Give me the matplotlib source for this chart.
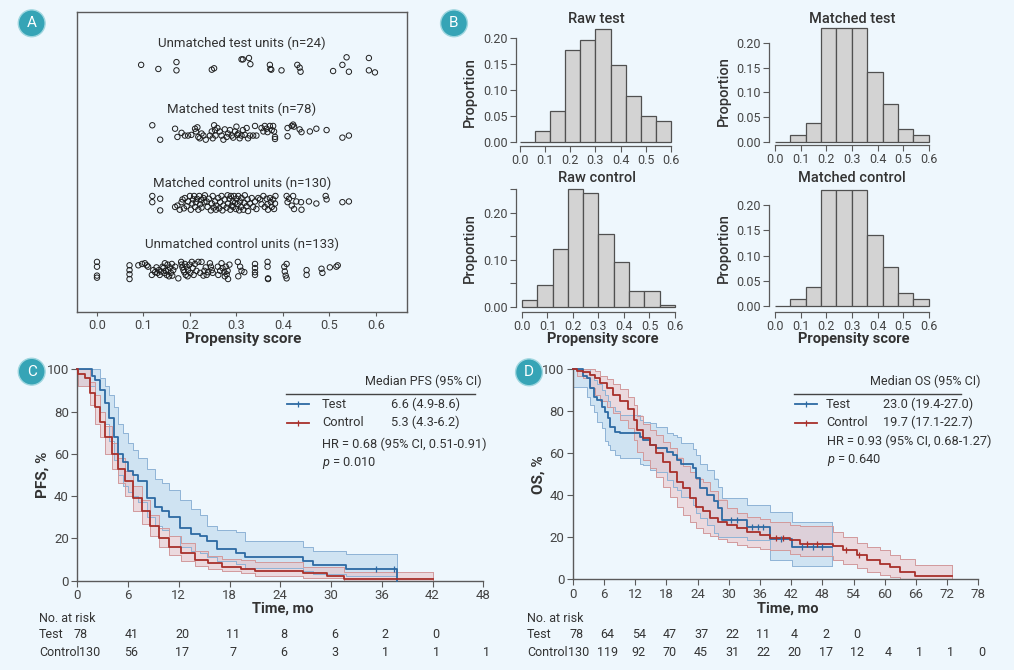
import matplotlib.pyplot as plt
import numpy as np
from matplotlib.transforms import blended_transform_factory

plt.rcParams['font.family'] = ['Roboto', 'DejaVu Sans']
plt.rcParams['mathtext.fontset'] = 'custom'
plt.rcParams['mathtext.it'] = 'Roboto:italic'
plt.rcParams['mathtext.rm'] = 'Roboto'

W, H = 1014, 670
BG = '#eef7fd'
TXT = '#333333'
TICK = '#444444'
SPINE = '#5a5a5a'
BLUE, BLUE_F, BLUE_E = '#2d6aa3', '#b7d3ea', '#8fb3d6'
RED, RED_F, RED_E = '#a8302b', '#e9c2c5', '#d29a9c'
BADGE = '#36a4b6'

# ---------------- panel A: propensity scores with vertical jitter
ut_ps = [0.095, 0.132, 0.171, 0.171, 0.247, 0.252, 0.311, 0.314, 0.327, 0.330, 0.372, 0.373,
         0.375, 0.397, 0.431, 0.436, 0.438, 0.508, 0.528, 0.537, 0.542, 0.585, 0.585, 0.598]
ut_jit = [0.0, -0.06, 0.04, -0.08, -0.07, -0.05, 0.08, 0.08, 0.10, 0.01, 0.0, -0.06,
          -0.07, -0.08, 0.0, -0.04, -0.10, -0.09, 0.0, 0.11, -0.10, 0.10, -0.08, -0.11]

mt_ps = [0.119, 0.136, 0.168, 0.173, 0.182, 0.189, 0.196, 0.203, 0.211, 0.213,
         0.216, 0.218, 0.221, 0.225, 0.229, 0.234, 0.243, 0.247, 0.249, 0.252,
         0.254, 0.255, 0.259, 0.264, 0.268, 0.272, 0.275, 0.279, 0.282, 0.286,
         0.290, 0.293, 0.297, 0.300, 0.302, 0.304, 0.307, 0.311, 0.314, 0.318,
         0.322, 0.325, 0.329, 0.336, 0.340, 0.343, 0.354, 0.358, 0.361, 0.365,
         0.367, 0.372, 0.376, 0.379, 0.381, 0.383, 0.383, 0.410, 0.410, 0.419,
         0.422, 0.424, 0.436, 0.440, 0.458, 0.472, 0.494, 0.528, 0.542]
mt_jit = [0.12, -0.09, 0.07, -0.05, 0.01, -0.03, -0.03, -0.02, 0.07, 0.03,
          0.09, -0.05, -0.07, 0.0, -0.03, -0.09, -0.03, 0.03, -0.07, 0.12,
          0.05, -0.03, 0.08, 0.03, -0.03, -0.09, 0.06, -0.05, 0.0, 0.05,
          -0.03, -0.06, 0.03, 0.10, -0.02, 0.0, -0.07, -0.03, 0.05, -0.02,
          0.08, -0.07, -0.03, -0.03, 0.11, -0.03, 0.08, 0.03, 0.11, 0.07,
          0.02, 0.11, 0.05, 0.11, 0.03, -0.05, -0.08, 0.08, -0.04, 0.11,
          0.13, 0.10, 0.06, 0.02, 0.03, 0.07, 0.05, -0.06, -0.03]

mc_ps = [0.119, 0.119, 0.136, 0.136, 0.168, 0.173, 0.178, 0.182, 0.184, 0.187,
         0.189, 0.193, 0.196, 0.200, 0.202, 0.205, 0.207, 0.209, 0.211, 0.213,
         0.215, 0.218, 0.220, 0.222, 0.224, 0.225, 0.229, 0.231, 0.232, 0.236,
         0.238, 0.241, 0.245, 0.247, 0.249, 0.251, 0.254, 0.256, 0.257, 0.261,
         0.263, 0.265, 0.268, 0.270, 0.272, 0.275, 0.279, 0.281, 0.282, 0.285,
         0.287, 0.288, 0.290, 0.292, 0.293, 0.295, 0.297, 0.299, 0.300, 0.303,
         0.304, 0.306, 0.308, 0.310, 0.311, 0.315, 0.317, 0.318, 0.322, 0.324,
         0.325, 0.329, 0.333, 0.336, 0.340, 0.343, 0.347, 0.351, 0.354, 0.358,
         0.361, 0.365, 0.367, 0.368, 0.372, 0.374, 0.376, 0.379, 0.381, 0.383,
         0.384, 0.408, 0.410, 0.413, 0.419, 0.422, 0.424, 0.429, 0.439, 0.440,
         0.456, 0.472, 0.492, 0.494, 0.528, 0.542]
mc_jit = [0.09, 0.0, 0.05, -0.12, -0.07, -0.05, -0.11, 0.0, 0.04, -0.09,
          0.06, -0.06, 0.01, 0.09, -0.11, -0.02, 0.04, 0.09, -0.07, 0.0,
          0.05, -0.11, 0.09, -0.03, 0.03, -0.08, 0.06, 0.0, 0.10, 0.01,
          -0.07, 0.05, -0.12, -0.02, 0.09, -0.08, 0.01, -0.11, -0.05, 0.06,
          -0.09, 0.0, 0.09, -0.12, -0.05, 0.04, -0.08, 0.10, -0.02, 0.05,
          -0.11, 0.09, -0.05, 0.01, -0.07, 0.09, -0.01, -0.10, 0.05, -0.03,
          0.09, -0.12, 0.01, -0.07, 0.06, -0.11, -0.01, 0.10, -0.06, 0.04,
          -0.13, -0.02, 0.06, -0.07, 0.01, -0.10, 0.06, 0.04, -0.03, 0.09,
          -0.07, 0.05, -0.03, -0.11, 0.06, 0.0, -0.07, 0.04, -0.10, -0.02,
          0.09, 0.09, 0.0, 0.05, -0.05, 0.09, -0.10, 0.01, 0.0, -0.11,
          0.01, -0.02, 0.09, 0.04, 0.0, 0.01]

uc_ps = [0.0, 0.0, 0.0, 0.0, 0.07, 0.07, 0.07, 0.07, 0.089, 0.097,
         0.103, 0.107, 0.110, 0.118, 0.121, 0.125, 0.128, 0.130, 0.133, 0.135,
         0.138, 0.141, 0.143, 0.145, 0.146, 0.148, 0.150, 0.152, 0.153, 0.155,
         0.157, 0.159, 0.161, 0.162, 0.164, 0.168, 0.175, 0.181, 0.182, 0.184,
         0.186, 0.188, 0.189, 0.191, 0.193, 0.195, 0.196, 0.199, 0.201, 0.204,
         0.206, 0.208, 0.211, 0.214, 0.218, 0.222, 0.225, 0.229, 0.231, 0.234,
         0.236, 0.239, 0.243, 0.245, 0.247, 0.249, 0.260, 0.261, 0.265, 0.268,
         0.270, 0.274, 0.275, 0.277, 0.279, 0.281, 0.282, 0.285, 0.303, 0.304,
         0.308, 0.311, 0.317, 0.340, 0.340, 0.340, 0.340, 0.367, 0.367, 0.368,
         0.368, 0.403, 0.404, 0.406, 0.408, 0.408, 0.451, 0.451, 0.483, 0.485,
         0.501, 0.515, 0.518]
uc_jit = [0.13, 0.06, -0.07, -0.10, 0.08, 0.01, -0.05, -0.12, 0.08, 0.10,
          0.11, 0.08, 0.06, -0.06, 0.01, -0.02, 0.05, -0.03, 0.01, -0.06,
          -0.01, 0.06, 0.04, -0.03, 0.11, 0.0, -0.06, 0.09, 0.01, -0.08,
          0.05, -0.03, 0.10, -0.07, 0.01, 0.06, -0.11, 0.13, 0.09, 0.05,
          0.01, -0.02, 0.10, -0.06, 0.06, -0.08, 0.01, 0.09, -0.03, 0.13,
          0.04, -0.06, 0.10, 0.0, 0.13, -0.03, 0.13, -0.07, 0.0, 0.05,
          -0.06, -0.02, 0.11, 0.06, 0.01, -0.03, 0.06, -0.06, 0.0, 0.11,
          0.04, -0.02, -0.08, 0.06, -0.05, 0.0, -0.12, 0.09, 0.13, -0.08,
          0.06, 0.0, -0.02, 0.10, 0.04, -0.02, -0.06, 0.13, 0.06, -0.11,
          -0.12, 0.06, -0.01, -0.07, -0.11, 0.10, 0.01, -0.06, 0.03, -0.03,
          0.05, 0.06, 0.08]

group_labels = ['Unmatched control units (n=133)', 'Matched control units (n=130)',
                'Matched test tnits (n=78)', 'Unmatched test units (n=24)']

# ---------------- panel B: histogram proportions, bins of 0.06
bin_edges = np.linspace(0, 0.6, 11)
raw_test_prop = [0.0, 0.020, 0.059, 0.176, 0.196, 0.216, 0.147, 0.088, 0.049, 0.039]
matched_test_prop = [0.0, 0.013, 0.038, 0.231, 0.231, 0.231, 0.141, 0.077, 0.026, 0.013]
raw_ctrl_prop = [0.015, 0.046, 0.122, 0.251, 0.243, 0.156, 0.095, 0.034, 0.034, 0.004]
matched_ctrl_prop = [0.0, 0.013, 0.038, 0.231, 0.231, 0.231, 0.141, 0.077, 0.026, 0.013]

# ---------------- panel C: PFS Kaplan-Meier (months, %)
pfs_test_t = [0, 1.7, 2.1, 2.7, 3.3, 3.7, 4.3, 4.85, 5.4, 6.0, 6.6, 7.2, 8.2, 9.2, 10.0, 10.8,
              12.1, 13.5, 14.5, 15.3, 16.5, 18.8, 19.8, 26.7, 27.9, 31.8, 37.8]
pfs_test_s = [100, 97, 95, 90, 84, 77, 68, 60, 56, 52, 50, 47, 39, 35, 33, 30,
              25, 22, 21, 19, 15, 13, 11, 9.3, 7.4, 5.5, 0]
pfs_test_hi = [100, 100, 100, 96, 92, 88, 82, 74, 70, 65, 62, 58, 53, 48, 46, 43,
               38, 34, 31, 26, 24, 23, 19, 16, 14, 12.5, 12.5]
pfs_test_lo = [92, 92, 88, 80, 74, 66, 57, 50, 45, 42, 40, 37, 30, 26, 24, 21,
               16, 14, 13, 11, 9.5, 8, 6, 4.5, 3, 2, 2]
pfs_test_cens = [35.3, 37.4]

pfs_ctrl_t = [0, 0.1, 0.9, 1.5, 2.1, 2.7, 3.3, 4.1, 4.85, 5.6, 6.6, 7.6, 8.6, 9.6, 10.8,
              12.3, 13.9, 15.5, 17.1, 19.4, 21.0, 26.7, 29.5, 31.5, 42.1]
pfs_ctrl_s = [100, 98, 96, 89, 82, 75, 68, 60, 53, 47, 39, 33, 26, 20, 16,
              13, 10, 8.2, 6.6, 5.5, 4.7, 3.5, 2.2, 0.8, 0.8]
pfs_ctrl_hi = [100, 100, 100, 94, 88, 80, 73, 65, 58, 52, 45, 38, 31, 25, 21,
               18, 14, 11.5, 10.5, 9.8, 9, 6.3, 6.3, 4, 4]
pfs_ctrl_lo = [100, 92, 92, 83, 74, 68, 60, 53, 46, 40, 33, 27, 21, 16, 12,
               9.5, 7, 5.5, 4.5, 3.5, 2.2, 1.2, 1.2, 0, 0]
pfs_ctrl_cens = []

# ---------------- panel D: OS Kaplan-Meier (months, %)
os_test_t = [0, 2.0, 2.7, 3.3, 4.0, 4.6, 5.6, 6.2, 6.7, 7.2, 8.1, 9.1, 12.9, 13.6, 14.9, 16.1,
             18.1, 19.3, 20.0, 20.9, 23.2, 23.8, 24.5, 25.8, 27.1, 28.0, 28.7, 33.5, 37.9, 42.1, 49.8]
os_test_s = [100, 97, 95.7, 91, 87, 85.4, 82.2, 79.8, 76.6, 72.7, 70.3, 69.5, 67.9, 66.3, 63.9, 62.4,
             60.8, 59.2, 56.8, 54.8, 52.9, 48.2, 43.4, 40.2, 37.1, 33.9, 28.2, 24.7, 19.0, 15.2, 15.2]
os_test_hi = [100, 100, 100, 98, 95, 93, 90, 88, 85, 82, 80, 78.2, 76, 75, 74.3, 72.7,
              69.5, 68.5, 67.9, 65, 62, 59.2, 55, 52, 48, 44, 38.6, 35.4, 32.2, 27.1, 27.1]
os_test_lo = [91.7, 91.7, 87, 83, 79.8, 75, 72, 66, 64, 61.6, 59, 57.6, 55, 54.4, 52, 51.3,
              47.3, 44, 42.5, 39, 35.4, 31.4, 29, 26, 22, 20.3, 20.3, 18.7, 9.2, 6.3, 6.3]
os_test_cens = [30.5, 31.6, 34.4, 35.6, 36.6, 40.0, 44.0, 46.2, 48.0]

os_ctrl_t = [0, 0.8, 2.0, 3.3, 4.3, 5.2, 6.5, 7.8, 9.1, 10.7, 11.7, 12.3, 13.6, 14.9, 16.1, 17.4,
             18.7, 20.0, 21.3, 22.6, 23.8, 25.1, 26.4, 28.0, 29.6, 31.5, 33.5, 36.0, 37.9, 41.8,
             43.7, 50.1, 52.0, 54.6, 56.5, 59.1, 61.0, 63.0, 65.8, 72.9]
os_ctrl_s = [100, 99.2, 98.5, 97.3, 95.7, 93.5, 91, 88, 85, 81, 76, 71, 67.2, 63.9, 60, 56,
             51.3, 46.5, 43.4, 38.6, 34.6, 32.3, 29.2, 27.5, 25.9, 24.3, 22.7, 21.1, 19.5, 18.7,
             16.8, 15.9, 13.9, 11.5, 9.2, 7.1, 5.7, 3.6, 1.5, 1.5]
os_ctrl_hi = [100, 100, 100, 100, 99, 97, 95.5, 93, 90.5, 87, 83, 78, 74, 71, 68.5, 65.5,
              62.4, 58, 54, 51.3, 48, 46.5, 42, 38, 34, 31.5, 29.8, 28.5, 27.5, 26,
              25.5, 22.7, 20.3, 17.1, 15.5, 13.9, 11.5, 9.5, 6.8, 6.8]
os_ctrl_lo = [100, 97, 95.7, 91, 88, 85, 82, 79, 76, 72, 66.3, 60.8, 56.8, 52.9, 48.9, 44.1,
              39.4, 34.6, 30.7, 27.5, 24.3, 21.9, 20.5, 19, 17.9, 16.3, 15.5, 14.5, 14.0, 12,
              11, 9, 7.5, 5.5, 3.5, 2, 1, 0, 0, 0]
os_ctrl_cens = [39.0, 40.5, 45.0, 47.0, 52.5, 55.0]

# numbers at risk
pfs_risk_times = [0, 6, 12, 18, 24, 30, 36, 42, 48]
pfs_risk_test = [78, 41, 20, 11, 8, 6, 2, 0]
pfs_risk_ctrl = [130, 56, 17, 7, 6, 3, 1, 1, 1]
os_risk_times = [0, 6, 12, 18, 24, 30, 36, 42, 48, 54, 60, 66, 72, 78]
os_risk_test = [78, 64, 54, 47, 37, 22, 11, 4, 2, 0]
os_risk_ctrl = [130, 119, 92, 70, 45, 31, 22, 20, 17, 12, 4, 1, 1, 0]


def rect(l, t, r, b):
    return [l / W, 1 - b / H, (r - l) / W, (b - t) / H]


def fx(x):
    return x / W


def fy(y):
    return 1 - y / H


fig = plt.figure(figsize=(W / 100, H / 100), dpi=100, facecolor=BG)


def badge(x, y, letter):
    fig.text(fx(x), fy(y), letter, ha='center', va='center', color='white', fontsize=11,
             bbox=dict(boxstyle='circle,pad=0.42', fc=BADGE, ec='#9fd6df', lw=1.0))


# ======================= A
axA = fig.add_axes(rect(77, 12, 407, 312))
axA.set_facecolor(BG)
series_a = [(uc_ps, uc_jit), (mc_ps, mc_jit), (mt_ps, mt_jit), (ut_ps, ut_jit)]
label_y = [1.38, 2.28, 3.35, 4.32]
for i, (ps, jit) in enumerate(series_a):
    axA.scatter(ps, (i + 1) + np.array(jit), s=15, facecolors='none',
                edgecolors='#1e1e1e', linewidths=0.7)
    axA.text(0.5, label_y[i], group_labels[i],
             transform=blended_transform_factory(axA.transAxes, axA.transData),
             ha='center', va='center', fontsize=9.5, color=TXT)
axA.set_xlim(-0.043, 0.667)
axA.set_ylim(0.40, 4.77)
axA.set_yticks([])
axA.set_xticks(np.arange(0, 0.61, 0.1))
axA.set_xticklabels([f'{v:.1f}' for v in np.arange(0, 0.61, 0.1)])
axA.tick_params(axis='x', length=3, color=SPINE, labelsize=9.2, labelcolor=TICK, pad=2)
for sp in axA.spines.values():
    sp.set_color(SPINE)
    sp.set_linewidth(1.0)
fig.text(fx(243), fy(339), 'Propensity score', ha='center', va='center', fontsize=11,
         color=TXT, fontweight='bold')
badge(31.7, 23.3, 'A')


# ======================= B
def hist_panel(r, props, xlim, ylim, ytop, yticks, ylabels, title, title_xy, ylab_xy, xlabel_xy=None):
    ax = fig.add_axes(rect(*r))
    ax.set_facecolor('none')
    ax.bar(bin_edges[:-1], props, width=0.06, align='edge', color='#d3d3d3',
           edgecolor='#505050', linewidth=0.9, clip_on=False)
    ax.set_xlim(*xlim)
    ax.set_ylim(*ylim)
    for s in ['top', 'right']:
        ax.spines[s].set_visible(False)
    ax.spines['left'].set_bounds(0, ytop)
    ax.spines['bottom'].set_bounds(0, 0.6)
    for s in ['left', 'bottom']:
        ax.spines[s].set_color(SPINE)
        ax.spines[s].set_linewidth(0.9)
    ax.set_xticks(np.arange(0, 0.61, 0.1))
    ax.set_xticklabels([f'{v:.1f}' for v in np.arange(0, 0.61, 0.1)])
    ax.set_yticks(yticks)
    ax.set_yticklabels(ylabels)
    ax.tick_params(length=4, color=SPINE, labelsize=9, labelcolor=TICK, pad=2)
    fig.text(fx(title_xy[0]), fy(title_xy[1]), title, ha='center', va='center',
             fontsize=10.5, color=TXT, fontweight='medium')
    fig.text(fx(ylab_xy[0]), fy(ylab_xy[1]), 'Proportion', ha='center', va='center',
             rotation=90, fontsize=10.5, color=TXT, fontweight='medium')
    if xlabel_xy:
        fig.text(fx(xlabel_xy[0]), fy(xlabel_xy[1]), 'Propensity score', ha='center',
                 va='center', fontsize=10.5, color=TXT, fontweight='bold')
    return ax


t5 = [0, 0.05, 0.10, 0.15, 0.20]
l5 = ['0.00', '0.05', '0.10', '0.15', '0.20']
hist_panel((516, 26, 676, 146), raw_test_prop, (-0.016, 0.62), (-0.0085, 0.2225), 0.20,
           t5, l5, 'Raw test', (596, 19), (470, 92))
hist_panel((769, 28, 934, 145), matched_test_prop, (-0.023, 0.62), (-0.0067, 0.231), 0.20,
           t5, l5, 'Matched test', (852, 19), (724, 91))
hist_panel((516, 189, 676, 312), raw_ctrl_prop, (-0.0235, 0.604), (-0.0113, 0.251), 0.25,
           [0, 0.05, 0.10, 0.15, 0.20, 0.25], ['0.00', '', '0.10', '', '0.20', ''],
           'Raw control', (597, 178), (470, 248), (603, 339))
hist_panel((769, 189, 934, 312), matched_ctrl_prop, (-0.023, 0.62), (-0.0126, 0.2327), 0.20,
           t5, l5, 'Matched control', (852, 178), (724, 248), (854, 339))
badge(454, 23.3, 'B')


# ======================= C / D
def km_curve(ax, t, s, lo, hi, cens, line_c, fill_c, edge_c):
    ax.fill_between(t, lo, hi, step='post', color=fill_c, alpha=0.55, lw=0, zorder=1)
    ax.step(t, hi, where='post', color=edge_c, lw=0.7, zorder=2, clip_on=False)
    ax.step(t, lo, where='post', color=edge_c, lw=0.7, zorder=2, clip_on=False)
    ax.plot([t[-1], t[-1]], [lo[-1], hi[-1]], color=edge_c, lw=0.7, zorder=2)
    ax.step(t, s, where='post', color=line_c, lw=1.3, zorder=3, clip_on=False)
    if cens:
        idx = np.searchsorted(t, cens, side='right') - 1
        ax.plot(cens, np.array(s)[idx], ls='none', marker='|', ms=5, mew=0.9,
                color=line_c, zorder=4)


def km_panel(r, xmax, test, ctrl, ylabel, ylab_x, xlab_x, legend, risk):
    ax = fig.add_axes(rect(*r))
    ax.set_facecolor('none')
    km_curve(ax, *test, BLUE, BLUE_F, BLUE_E)
    km_curve(ax, *ctrl, RED, RED_F, RED_E)
    ax.set_xlim(0, xmax)
    ax.set_ylim(0, 100)
    ax.set_xticks(np.arange(0, xmax + 1, 6))
    ax.set_yticks(np.arange(0, 101, 20))
    for s in ['top', 'right']:
        ax.spines[s].set_visible(False)
    for s in ['left', 'bottom']:
        ax.spines[s].set_color(SPINE)
        ax.spines[s].set_linewidth(1.0)
    ax.tick_params(length=4, color=SPINE, labelsize=9.5, labelcolor=TICK, pad=2)
    fig.text(fx(ylab_x), fy(475), ylabel, rotation=90, ha='center', va='center',
             fontsize=11, color=TXT, fontweight='bold')
    fig.text(fx(xlab_x), fy(609), 'Time, mo', ha='center', va='center',
             fontsize=10.5, color=TXT, fontweight='bold')

    # legend block
    head, head_x, rule_x0, rule_x1, samp_x0, name_x, val_x, hr_x, hr_y, p_y, vals, hr, p = legend
    fig.text(fx(head_x), fy(381), head, ha='right', va='center', fontsize=9, color=TXT)
    fig.lines.append(plt.Line2D([fx(rule_x0), fx(rule_x1)], [fy(393.5), fy(393.5)],
                                color='#444444', lw=1.0, transform=fig.transFigure))
    for yy, c, nm, vv in [(404, BLUE, 'Test', vals[0]), (422.7, RED, 'Control', vals[1])]:
        fig.lines.append(plt.Line2D([fx(samp_x0), fx(samp_x0 + 22)], [fy(yy), fy(yy)],
                                    color=c, lw=1.3, transform=fig.transFigure))
        fig.lines.append(plt.Line2D([fx(samp_x0 + 11)], [fy(yy)], color=c, marker='|', ms=5,
                                    mew=0.9, transform=fig.transFigure))
        fig.text(fx(name_x), fy(yy), nm, ha='left', va='center', fontsize=9.2, color=TXT)
        fig.text(fx(val_x), fy(yy), vv, ha='left', va='center', fontsize=9.2, color=TXT)
    fig.text(fx(hr_x), fy(hr_y), hr, ha='left', va='center', fontsize=9.2, color=TXT)
    fig.text(fx(hr_x), fy(p_y), r'$\mathit{p}$ = ' + p, ha='left', va='center',
             fontsize=9.2, color=TXT)

    # numbers at risk
    times, r_test, r_ctrl, row_x, ctrl0_x = risk
    px_per_unit = (r[2] - r[0]) / xmax
    tr = blended_transform_factory(ax.transData, fig.transFigure)
    fig.text(fx(row_x), fy(618), 'No. at risk', ha='left', va='center', fontsize=9, color=TXT)
    for yy, nm, vals_r in [(635, 'Test', r_test), (653, 'Control', r_ctrl)]:
        fig.text(fx(row_x), fy(yy), nm, ha='left', va='center', fontsize=9, color=TXT)
        for j, v in enumerate(vals_r):
            if j == 0 and nm == 'Control':
                fig.text(fx(ctrl0_x), fy(yy), str(v), ha='left', va='center',
                         fontsize=9, color=TXT)
            else:
                ax.text(times[j] + 3.5 / px_per_unit, fy(yy), str(v), transform=tr,
                        ha='center', va='center', fontsize=9, color=TXT)
    return ax


km_panel((77.3, 369.3, 483.3, 580.7), 48,
         (pfs_test_t, pfs_test_s, pfs_test_lo, pfs_test_hi, pfs_test_cens),
         (pfs_ctrl_t, pfs_ctrl_s, pfs_ctrl_lo, pfs_ctrl_hi, pfs_ctrl_cens),
         'PFS, %', 43, 283,
         ('Median PFS (95% CI)', 482, 286, 475, 287, 322, 391, 322, 444, 462.7,
          ('6.6 (4.9-8.6)', '5.3 (4.3-6.2)'), 'HR = 0.68 (95% CI, 0.51-0.91)', '0.010'),
         (pfs_risk_times, pfs_risk_test, pfs_risk_ctrl, 39, 79))
badge(31.7, 371.7, 'C')

km_panel((572.7, 369.3, 978.3, 579.3), 78,
         (os_test_t, os_test_s, os_test_lo, os_test_hi, os_test_cens),
         (os_ctrl_t, os_ctrl_s, os_ctrl_lo, os_ctrl_hi, os_ctrl_cens),
         'OS, %', 539, 788,
         ('Median OS (95% CI)', 980, 794, 961, 795, 826, 883, 827, 441, 460,
          ('23.0 (19.4-27.0)', '19.7 (17.1-22.7)'), 'HR = 0.93 (95% CI, 0.68-1.27)', '0.640'),
         (os_risk_times, os_risk_test, os_risk_ctrl, 527, 568))
badge(529, 372.3, 'D')

fig.savefig('out.png', dpi=100, facecolor=BG)
